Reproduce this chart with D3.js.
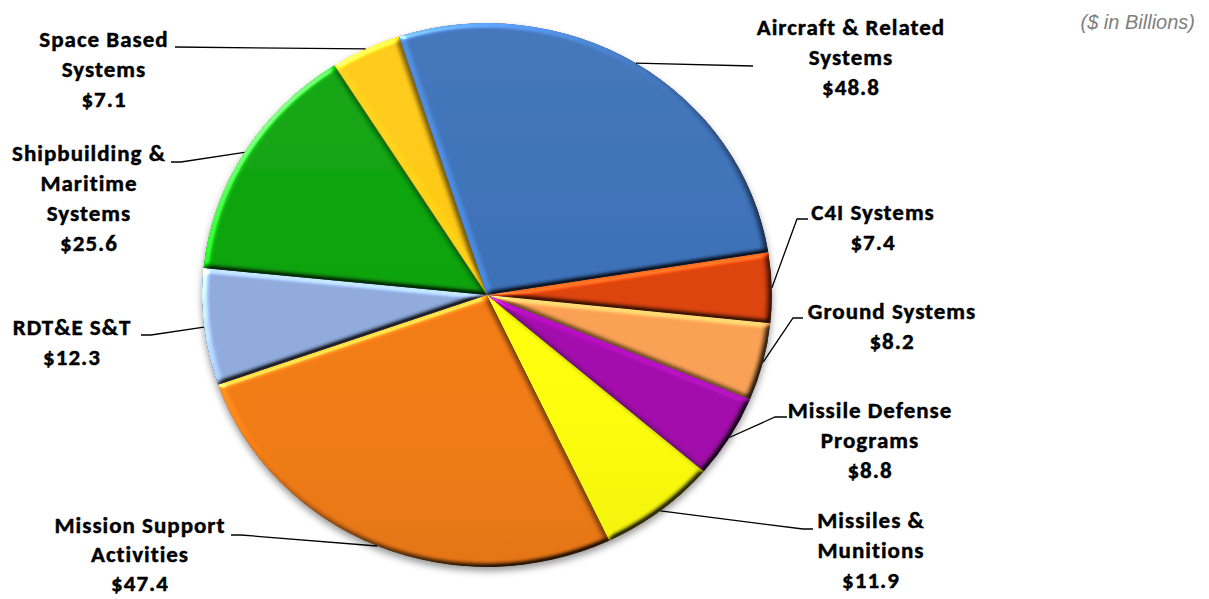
<!DOCTYPE html>
<html>
<head>
<meta charset="utf-8">
<script src="https://cdn.jsdelivr.net/npm/d3@7"></script>
<style>
  html, body { margin: 0; padding: 0; background: #ffffff; }
  svg { display: block; }
</style>
</head>
<body>
<svg id="chart" width="1209" height="599"></svg>
<script>
// Procurement and RDT&E by category, $ in billions
const categories = [
  "Aircraft & Related\nSystems",
  "C4I Systems",
  "Ground Systems",
  "Missile Defense\nPrograms",
  "Missiles &\nMunitions",
  "Mission Support\nActivities",
  "RDT&E S&T",
  "Shipbuilding &\nMaritime\nSystems",
  "Space Based\nSystems"
];
const values = [48.8, 7.4, 8.2, 8.8, 11.9, 47.4, 12.3, 25.6, 7.1];
const unitNote = "($ in Billions)";

// Slice fills, in category order
const sliceColors = [
  "#3a6fb7", "#db420a", "#f9a052", "#a20bab", "#ffff04",
  "#f27a14", "#8eaadb", "#0aa20a", "#ffc812"
];

// Label placement: centre x, first baseline y, line gap, and the leader's elbow points
const labelLayout = [
  { x: 851, y: 35,  gap: 30, leader: [[753, 66]] },
  { x: 873, y: 220, gap: 30, leader: [[808, 219], [797, 219]] },
  { x: 892, y: 319, gap: 30, leader: [[803, 318], [793, 318]] },
  { x: 870, y: 418, gap: 30, leader: [[787, 417], [775, 417]] },
  { x: 871, y: 528, gap: 30, leader: [[813, 529], [803, 529]] },
  { x: 140, y: 533, gap: 29, leader: [[231, 535], [241, 535]] },
  { x: 72,  y: 335, gap: 30, leader: [[141, 335], [151, 335]] },
  { x: 89,  y: 161, gap: 30, leader: [[171, 162], [181, 162]] },
  { x: 104, y: 47,  gap: 30, leader: [[175, 47]] }
];

const cx = 487, cy = 295, rx = 285, ry = 272;
const firstAngle = -18 * Math.PI / 180;

const data = categories.map((c, i) => ({ name: c, value: values[i], color: sliceColors[i], layout: labelLayout[i] }));

const svg = d3.select("#chart");
const defs = svg.append("defs");

// Bevel: soft alpha height map lit from the upper left
const bevel = defs.append("filter").attr("id", "bevel")
  .attr("x", "-10%").attr("y", "-10%").attr("width", "120%").attr("height", "120%")
  .attr("color-interpolation-filters", "sRGB");
bevel.append("feGaussianBlur").attr("in", "SourceAlpha").attr("stdDeviation", 3).attr("result", "blur");
bevel.append("feDiffuseLighting").attr("in", "blur").attr("surfaceScale", 3).attr("diffuseConstant", 1)
  .attr("lighting-color", "#ffffff").attr("result", "diff")
  .append("feDistantLight").attr("azimuth", 225).attr("elevation", 30);
bevel.append("feComposite").attr("in", "SourceGraphic").attr("in2", "diff").attr("operator", "arithmetic")
  .attr("k1", 1.6).attr("k2", 0.2).attr("k3", 0).attr("k4", 0).attr("result", "shaded");
bevel.append("feSpecularLighting").attr("in", "blur").attr("surfaceScale", 3).attr("specularConstant", 0.9)
  .attr("specularExponent", 30).attr("lighting-color", "#ffffff").attr("result", "spec")
  .append("feDistantLight").attr("azimuth", 225).attr("elevation", 30);
bevel.append("feComposite").attr("in", "spec").attr("in2", "SourceAlpha").attr("operator", "in").attr("result", "specIn");
bevel.append("feComposite").attr("in", "shaded").attr("in2", "specIn").attr("operator", "arithmetic")
  .attr("k1", 0).attr("k2", 1).attr("k3", 0.55).attr("k4", 0).attr("result", "lit");
bevel.append("feComposite").attr("in", "lit").attr("in2", "SourceAlpha").attr("operator", "in");

// Soft shadow under the whole pie
const shadow = defs.append("filter").attr("id", "pieShadow")
  .attr("x", "-10%").attr("y", "-10%").attr("width", "120%").attr("height", "125%");
shadow.append("feDropShadow").attr("dx", 0).attr("dy", 4).attr("stdDeviation", 3.5)
  .attr("flood-color", "#000").attr("flood-opacity", 0.4);

// Top-to-bottom light falloff across the pie
const sheen = defs.append("linearGradient").attr("id", "sheen")
  .attr("x1", 0).attr("y1", 0).attr("x2", 0).attr("y2", 1);
sheen.append("stop").attr("offset", "0%").attr("stop-color", "#ffffff").attr("stop-opacity", 0.05);
sheen.append("stop").attr("offset", "50%").attr("stop-color", "#ffffff").attr("stop-opacity", 0);
sheen.append("stop").attr("offset", "100%").attr("stop-color", "#000000").attr("stop-opacity", 0.06);

const pie = d3.pie().sort(null).value(d => d.value)
  .startAngle(firstAngle).endAngle(firstAngle + 2 * Math.PI);
const arcs = pie(data);
const arc = d3.arc().innerRadius(0).outerRadius(rx);

const pieG = svg.append("g").attr("filter", "url(#pieShadow)")
  .append("g").attr("transform", `translate(${cx},${cy}) scale(1,${ry / rx})`);

pieG.selectAll("path.slice").data(arcs).join("path")
  .attr("class", "slice")
  .attr("d", arc)
  .attr("fill", d => d.data.color)
  .attr("filter", "url(#bevel)");

pieG.append("circle").attr("r", rx).attr("fill", "url(#sheen)").attr("pointer-events", "none");

// Leader lines from each slice's mid-angle on the rim to its label
const rimPoint = a => {
  const m = (a.startAngle + a.endAngle) / 2;
  return [cx + rx * Math.sin(m), cy - ry * Math.cos(m)];
};
svg.append("g").selectAll("polyline").data(arcs).join("polyline")
  .attr("points", d => d.data.layout.leader.concat([rimPoint(d)]).map(p => p.join(",")).join(" "))
  .attr("fill", "none").attr("stroke", "#000").attr("stroke-width", 1.3);

// Category labels with values
const fmt = d3.format(".1f");
const labels = svg.append("g")
  .attr("font-family", "Carlito, Calibri, Lato, 'Open Sans', sans-serif")
  .attr("font-weight", "bold").attr("font-size", 23).attr("fill", "#000")
  .attr("stroke", "#000").attr("stroke-width", 0.45)
  .attr("letter-spacing", 1)
  .attr("text-anchor", "middle");
labels.selectAll("text").data(arcs).join("text")
  .each(function (d) {
    const lines = d.data.name.split("\n").concat(["$" + fmt(d.data.value)]);
    const t = d3.select(this);
    const L = d.data.layout;
    lines.forEach((ln, i) => {
      t.append("tspan").attr("x", L.x).attr("y", L.y + i * L.gap).text(ln);
    });
  });

svg.append("text")
  .attr("x", 1195).attr("y", 29)
  .attr("text-anchor", "end")
  .attr("font-family", "Arial, 'Liberation Sans', sans-serif")
  .attr("font-style", "italic").attr("font-size", 20).attr("fill", "#7f7f7f")
  .text(unitNote);
</script>
</body>
</html>
